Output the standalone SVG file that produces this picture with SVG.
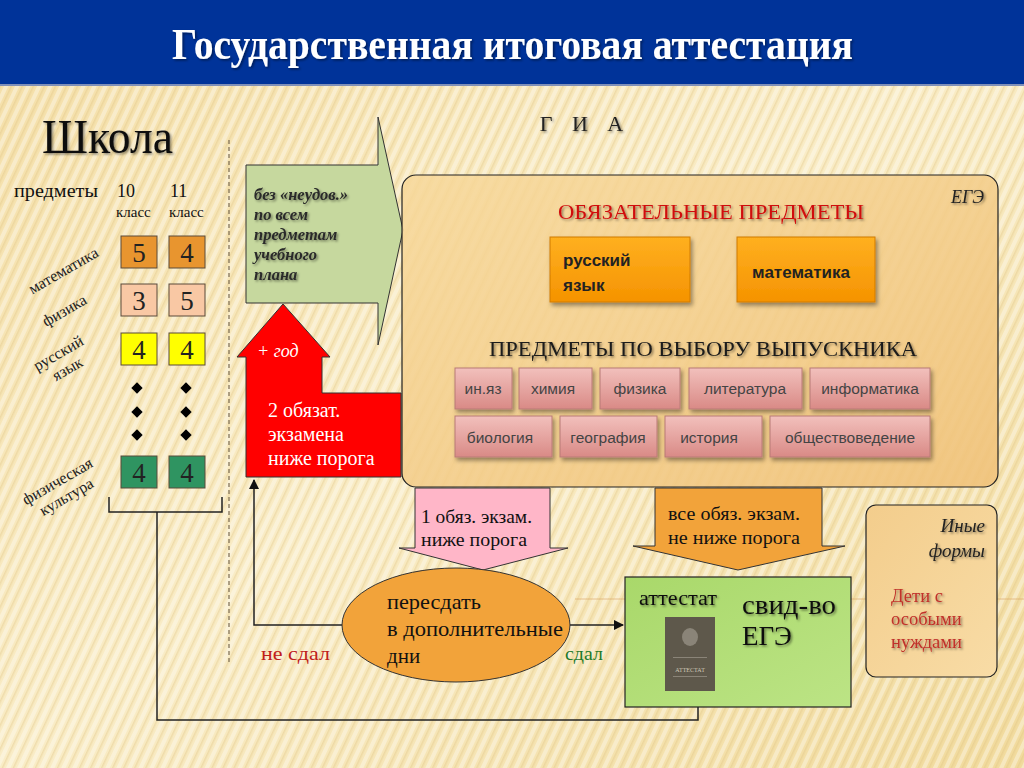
<svg xmlns="http://www.w3.org/2000/svg" width="1024" height="768" viewBox="0 0 1024 768">
<defs>
<linearGradient id="bg" x1="0" y1="0" x2="1" y2="1">
<stop offset="0" stop-color="#f4dea6"/>
<stop offset="0.5" stop-color="#f9ecc6"/>
<stop offset="1" stop-color="#f1da9c"/>
</linearGradient>
<pattern id="stripes" width="10" height="10" patternUnits="userSpaceOnUse" patternTransform="rotate(25)">
<rect width="4" height="10" fill="#ffffff" opacity="0.35"/>
<rect x="6" width="1.5" height="10" fill="#dcbf7e" opacity="0.35"/>
</pattern>
<linearGradient id="egeG" x1="0" y1="0" x2="1" y2="1">
<stop offset="0" stop-color="#f7d89a" stop-opacity="0.85"/>
<stop offset="1" stop-color="#f0c27a" stop-opacity="0.9"/>
</linearGradient>
<linearGradient id="orG" x1="0" y1="0" x2="0" y2="1">
<stop offset="0" stop-color="#ffb020"/>
<stop offset="1" stop-color="#f59300"/>
</linearGradient>
<linearGradient id="pkG" x1="0" y1="0" x2="0" y2="1">
<stop offset="0" stop-color="#f2c0bc"/>
<stop offset="1" stop-color="#d98a86"/>
</linearGradient>
<linearGradient id="grG" x1="0" y1="0" x2="1" y2="1">
<stop offset="0" stop-color="#a9d86a"/>
<stop offset="1" stop-color="#bce485"/>
</linearGradient>
<linearGradient id="inG" x1="0" y1="0" x2="1" y2="1">
<stop offset="0" stop-color="#f3cd8c"/>
<stop offset="1" stop-color="#f8dca6"/>
</linearGradient>
<filter id="sh" x="-10%" y="-10%" width="130%" height="140%">
<feDropShadow dx="2" dy="3" stdDeviation="2" flood-color="#000" flood-opacity="0.4"/>
</filter>
<filter id="tsh" x="-5%" y="-20%" width="115%" height="150%">
<feDropShadow dx="1.5" dy="1.5" stdDeviation="1" flood-color="#000" flood-opacity="0.45"/>
</filter>
<marker id="arr" viewBox="0 0 10 10" refX="9" refY="5" markerWidth="7" markerHeight="7" orient="auto">
<path d="M0,0 L10,5 L0,10 z" fill="#111"/>
</marker>
<marker id="arrG" viewBox="0 0 10 10" refX="9" refY="5" markerWidth="7" markerHeight="7" orient="auto">
<path d="M0,0 L10,5 L0,10 z" fill="#0b4a12"/>
</marker>
<style>
.serif{font-family:"Liberation Serif","Times New Roman",serif}
.sans{font-family:"Liberation Sans",Arial,sans-serif}
.grade{stroke:#5a4a3a;stroke-width:1}
.gnum{font-family:"Liberation Serif",serif;font-size:27px;fill:#222;text-anchor:middle}
.lbl{font-family:"Liberation Serif",serif;font-size:16px;fill:#222;text-anchor:middle}
.pk{fill:url(#pkG);stroke:#b87a76;stroke-width:1}
.pkt{font-family:"Liberation Sans",Arial,sans-serif;font-size:15.5px;fill:#444;text-anchor:middle}
.line{fill:none;stroke:#222;stroke-width:1.5}
</style>
</defs>

<!-- background -->
<rect width="1024" height="768" fill="url(#bg)"/>
<rect width="1024" height="768" fill="url(#stripes)"/>
<line x1="575" y1="599" x2="1024" y2="599" stroke="#d8a060" stroke-width="1" opacity="0.6"/>

<!-- header -->
<rect x="0" y="0" width="1024" height="84" fill="#003399"/>
<rect x="0" y="84" width="1024" height="2" fill="#8090b8"/>
<text x="172" y="59" class="serif" font-size="44" font-weight="bold" fill="#fff" textLength="681" lengthAdjust="spacingAndGlyphs" filter="url(#tsh)">Государственная итоговая аттестация</text>

<!-- left: school -->
<g id="school-title">
<text x="42" y="153" class="serif" font-size="48" fill="#111" textLength="131" lengthAdjust="spacingAndGlyphs" filter="url(#tsh)">Школа</text>
</g>
<text x="585" y="131" class="serif" font-size="22" fill="#222" text-anchor="middle" letter-spacing="7" filter="url(#tsh)">Г И А</text>
<line x1="229" y1="140" x2="229" y2="665" stroke="#7a6a50" stroke-width="1.2" stroke-dasharray="4,3"/>

<g id="grades-header" class="serif" fill="#111">
<text x="14" y="197" font-size="18" textLength="84" lengthAdjust="spacingAndGlyphs">предметы</text>
<text x="117" y="197" font-size="18">10</text>
<text x="116" y="217" font-size="15">класс</text>
<text x="170" y="197" font-size="18">11</text>
<text x="169" y="217" font-size="15">класс</text>
</g>

<g id="subject-labels">
<text class="lbl" transform="translate(66,275) rotate(-30)">математика</text>
<text class="lbl" transform="translate(67,315) rotate(-30)">физика</text>
<g transform="translate(64,363) rotate(-30)">
<text class="lbl" x="0" y="-6">русский</text>
<text class="lbl" x="0" y="12">язык</text>
</g>
<g transform="translate(63,491) rotate(-30)">
<text class="lbl" x="0" y="-6">физическая</text>
<text class="lbl" x="0" y="12">культура</text>
</g>
</g>

<g id="grades">
<rect class="grade" x="121" y="236" width="36" height="32" fill="#e8952f"/>
<rect class="grade" x="169" y="236" width="36" height="32" fill="#e8952f"/>
<text class="gnum" x="139" y="262">5</text>
<text class="gnum" x="187" y="262">4</text>
<rect class="grade" x="121" y="284" width="36" height="32" fill="#f9c8a4"/>
<rect class="grade" x="169" y="284" width="36" height="32" fill="#f9c8a4"/>
<text class="gnum" x="139" y="310">3</text>
<text class="gnum" x="187" y="310">5</text>
<rect class="grade" x="121" y="333" width="36" height="32" fill="#ffff00"/>
<rect class="grade" x="169" y="333" width="36" height="32" fill="#ffff00"/>
<text class="gnum" x="139" y="359">4</text>
<text class="gnum" x="187" y="359">4</text>
<rect class="grade" x="121" y="456" width="36" height="32" fill="#2f9461"/>
<rect class="grade" x="169" y="456" width="36" height="32" fill="#2f9461"/>
<text class="gnum" x="139" y="482">4</text>
<text class="gnum" x="187" y="482">4</text>
<g fill="#000">
<rect x="133" y="384" width="8" height="8" transform="rotate(45 137 388)"/>
<rect x="182" y="384" width="8" height="8" transform="rotate(45 186 388)"/>
<rect x="133" y="408" width="8" height="8" transform="rotate(45 137 412)"/>
<rect x="182" y="408" width="8" height="8" transform="rotate(45 186 412)"/>
<rect x="133" y="431" width="8" height="8" transform="rotate(45 137 435)"/>
<rect x="182" y="431" width="8" height="8" transform="rotate(45 186 435)"/>
</g>
</g>

<!-- green arrow -->
<g id="node-green-arrow">
<polygon points="246,165 378,165 378,117 403,230 378,345 378,303 246,303" fill="#c6d89e" stroke="#333" stroke-width="1"/>
<g class="serif" font-size="16.5" font-style="italic" font-weight="bold" fill="#2a2a2a" filter="url(#tsh)">
<text x="254" y="200">без «неудов.»</text>
<text x="254" y="220">по всем</text>
<text x="254" y="240">предметам</text>
<text x="254" y="260">учебного</text>
<text x="254" y="280">плана</text>
</g>
</g>

<!-- red arrow -->
<g id="node-red">
<polygon points="283,304 330,357 322,357 322,393 401,393 401,477 246,477 246,357 237,357" fill="#ff0000" stroke="#333" stroke-width="1"/>
<text x="257" y="357" class="serif" font-size="18" font-style="italic" fill="#fff">+ год</text>
<g class="serif" font-size="20" fill="#fff">
<text x="268" y="417">2 обязат.</text>
<text x="268" y="441">экзамена</text>
<text x="268" y="465">ниже порога</text>
</g>
</g>

<!-- EGE box -->
<g id="node-ege">
<rect x="402" y="175" width="596" height="312" rx="14" fill="url(#egeG)" stroke="#222" stroke-width="1.2"/>
<text x="984" y="203" class="serif" font-size="18" font-style="italic" fill="#222" text-anchor="end" filter="url(#tsh)">ЕГЭ</text>
<text x="711" y="219" class="serif" font-size="22" fill="#d01010" text-anchor="middle" textLength="306" lengthAdjust="spacingAndGlyphs" filter="url(#tsh)">ОБЯЗАТЕЛЬНЫЕ ПРЕДМЕТЫ</text>
<text x="703" y="356" class="serif" font-size="22" fill="#1a1a1a" text-anchor="middle" textLength="428" lengthAdjust="spacingAndGlyphs" filter="url(#tsh)">ПРЕДМЕТЫ ПО ВЫБОРУ ВЫПУСКНИКА</text>
</g>
<g id="node-rus">
<rect x="550" y="237" width="140" height="65" fill="url(#orG)" stroke="#d07a00" stroke-width="1" filter="url(#sh)"/>
<text x="563" y="266" class="sans" font-size="17" font-weight="bold" fill="#222">русский</text>
<text x="563" y="291" class="sans" font-size="17" font-weight="bold" fill="#222">язык</text>
</g>
<g id="node-math">
<rect x="737" y="237" width="138" height="65" fill="url(#orG)" stroke="#d07a00" stroke-width="1" filter="url(#sh)"/>
<text x="801" y="278" class="sans" font-size="17" font-weight="bold" fill="#222" text-anchor="middle">математика</text>
</g>
<g id="node-inyaz"><rect class="pk" x="455" y="368" width="57" height="41" filter="url(#sh)"/><text class="pkt" x="483" y="394">ин.яз</text></g>
<g id="node-chem"><rect class="pk" x="519" y="368" width="73" height="41" filter="url(#sh)"/><text class="pkt" x="553" y="394">химия</text></g>
<g id="node-phys"><rect class="pk" x="600" y="368" width="80" height="41" filter="url(#sh)"/><text class="pkt" x="640" y="394">физика</text></g>
<g id="node-lit"><rect class="pk" x="689" y="368" width="113" height="41" filter="url(#sh)"/><text class="pkt" x="745" y="394">литература</text></g>
<g id="node-inf"><rect class="pk" x="810" y="368" width="120" height="41" filter="url(#sh)"/><text class="pkt" x="870" y="394">информатика</text></g>
<g id="node-bio"><rect class="pk" x="455" y="416" width="97" height="41" filter="url(#sh)"/><text class="pkt" x="500" y="443">биология</text></g>
<g id="node-geo"><rect class="pk" x="560" y="416" width="97" height="41" filter="url(#sh)"/><text class="pkt" x="608" y="443">география</text></g>
<g id="node-hist"><rect class="pk" x="665" y="416" width="97" height="41" filter="url(#sh)"/><text class="pkt" x="709" y="443">история</text></g>
<g id="node-soc"><rect class="pk" x="770" y="416" width="160" height="41" filter="url(#sh)"/><text class="pkt" x="850" y="443">обществоведение</text></g>

<!-- down arrows -->
<g id="node-pink-arrow">
<polygon points="415,488 550,488 550,548 568,548 483,570 399,548 415,548" fill="#ffb6c8" stroke="#333" stroke-width="1"/>
<text x="421" y="523" class="serif" font-size="18" fill="#111" textLength="111" lengthAdjust="spacingAndGlyphs">1 обяз. экзам.</text>
<text x="421" y="546" class="serif" font-size="18" fill="#111" textLength="106" lengthAdjust="spacingAndGlyphs">ниже порога</text>
</g>
<g id="node-orange-arrow">
<polygon points="655,488 822,488 822,546 845,546 738,570 633,546 655,546" fill="#f2a33a" stroke="#333" stroke-width="1"/>
<text x="668" y="520" class="serif" font-size="18" fill="#111" textLength="132" lengthAdjust="spacingAndGlyphs">все обяз. экзам.</text>
<text x="668" y="544" class="serif" font-size="18" fill="#111" textLength="132" lengthAdjust="spacingAndGlyphs">не ниже порога</text>
</g>

<!-- connectors -->
<g id="connectors">
<polyline class="line" points="109,497 109,512 222,512 222,497"/>
<polyline class="line" points="157,512 157,720 698,720 698,695" marker-end="url(#arrG)"/>
<polyline class="line" points="343,625 254,625 254,480" marker-end="url(#arr)"/>
<line class="line" x1="570" y1="625" x2="623" y2="625" marker-end="url(#arr)"/>
</g>

<!-- ellipse -->
<g id="node-retake">
<ellipse cx="456" cy="625" rx="114" ry="57" fill="#f2a33a" stroke="#333" stroke-width="1"/>
<g class="serif" font-size="21" fill="#111">
<text x="387" y="609" textLength="94" lengthAdjust="spacingAndGlyphs">пересдать</text>
<text x="387" y="636" textLength="176" lengthAdjust="spacingAndGlyphs">в дополнительные</text>
<text x="387" y="663">дни</text>
</g>
</g>
<text x="261" y="660" class="serif" font-size="19" fill="#c0201a" textLength="69" lengthAdjust="spacingAndGlyphs">не сдал</text>
<text x="565" y="660" class="serif" font-size="19" fill="#1f7a2a" textLength="38" lengthAdjust="spacingAndGlyphs">сдал</text>

<!-- result green box -->
<g id="node-result">
<rect x="625" y="577" width="226" height="130" fill="url(#grG)" stroke="#222" stroke-width="1.2"/>
<text x="639" y="605" class="serif" font-size="20" fill="#111" textLength="78" lengthAdjust="spacingAndGlyphs" filter="url(#tsh)">аттестат</text>
<text x="742" y="614" class="serif" font-size="27" fill="#111" textLength="94" lengthAdjust="spacingAndGlyphs" filter="url(#tsh)">свид-во</text>
<text x="742" y="645" class="serif" font-size="27" fill="#111" filter="url(#tsh)">ЕГЭ</text>
<rect x="665" y="617" width="50" height="74" fill="#5e584b"/>
<ellipse cx="690" cy="637" rx="8" ry="9" fill="#8a8478"/>
<rect x="673" y="657" width="34" height="1" fill="#8a8478"/>
<text x="690" y="672" class="serif" font-size="6" fill="#cfc8b8" text-anchor="middle">АТТЕСТАТ</text>
<rect x="673" y="676" width="34" height="1" fill="#8a8478"/>
</g>

<!-- other forms -->
<g id="node-other">
<rect x="866" y="505" width="131" height="172" rx="10" fill="url(#inG)" stroke="#222" stroke-width="1.2"/>
<text x="985" y="532" class="serif" font-size="19" font-style="italic" fill="#222" text-anchor="end" filter="url(#tsh)">Иные</text>
<text x="985" y="557" class="serif" font-size="19" font-style="italic" fill="#222" text-anchor="end" filter="url(#tsh)">формы</text>
<g class="serif" font-size="18.5" fill="#c0302a" filter="url(#tsh)">
<text x="891" y="602">Дети с</text>
<text x="891" y="625">особыми</text>
<text x="891" y="648">нуждами</text>
</g>
</g>
</svg>
